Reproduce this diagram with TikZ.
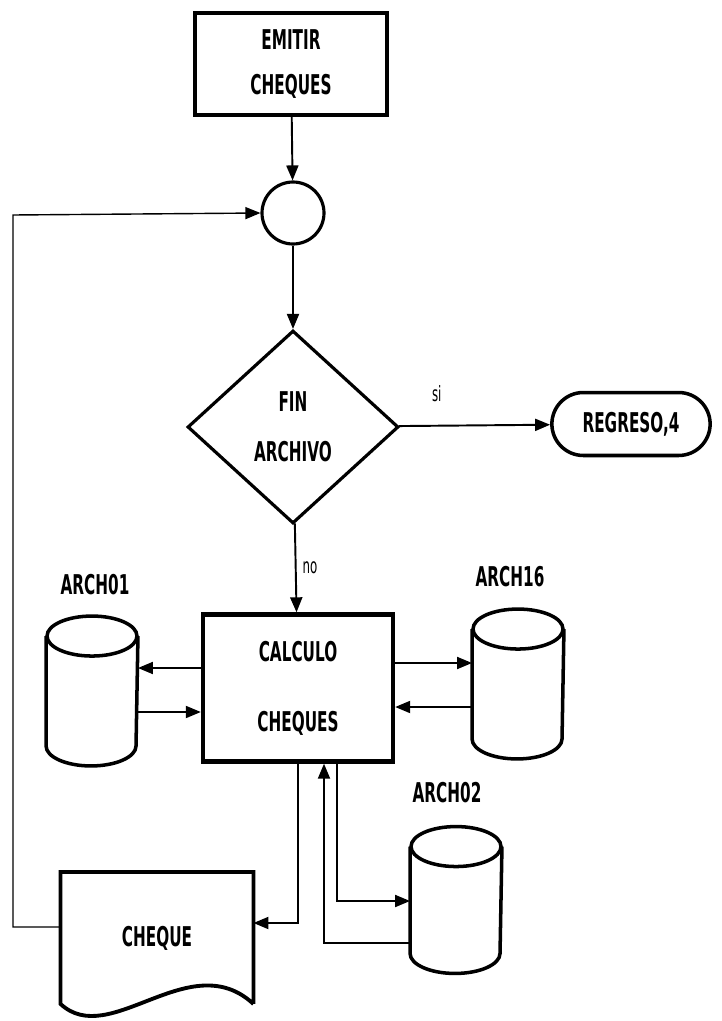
\documentclass[tikz,border=0pt]{standalone}
\usepackage{fontspec}
\newfontfamily\dotfont[FakeStretch=0.56]{DejaVu Sans}
\usetikzlibrary{arrows.meta,shapes.geometric,shapes.misc,positioning,calc}
\tikzset{every picture/.style={line width=1.1pt}}
\tikzset{
  txt/.style={font=\dotfont\bfseries\fontsize{15.5}{17}\selectfont, align=center},
  small/.style={font=\dotfont\fontsize{12}{13}\selectfont},
  box/.style={txt, draw, line width=2.5pt, inner sep=0pt},
  disk/.style={minimum width=1.8cm, minimum height=2.96cm, inner sep=0pt},
  arr/.style={-{Triangle[length=0.3cm,width=0.24cm]}},
}

\begin{document}
\begin{tikzpicture}[x=0.02cm, y=-0.02cm]
    \useasboundingbox (0,0) rectangle (721,1021);
    % Blocks
    \node[box, minimum width=3.84cm, minimum height=2.04cm] (emitir) at (291,64)
        {EMITIR\\[0.3cm]CHEQUES};
    \node[draw, circle, line width=1.8pt, minimum size=1.24cm] (conn) at (293,213) {};
    \node[txt, draw, diamond, line width=1.8pt, minimum width=4.22cm,
        minimum height=3.86cm, inner sep=0pt] (fin) at (293,427) {FIN\\[0.4cm]ARCHIVO};
    \node[txt, draw, rounded rectangle, line width=2pt, minimum width=3.4cm,
        minimum height=1.26cm] (regreso) at (631,424) {REGRESO,4};
    \node[box, minimum width=3.8cm, minimum height=2.94cm] (calc) at (298,688)
        {CALCULO\\[0.8cm]CHEQUES};
    % Files
    \node[disk] (arch01) at (92,691) {};
    \node[disk] (arch16) at (518,684) {};
    \node[disk, minimum height=2.9cm] (arch02) at (456,900) {};
    \foreach \f in {arch01,arch16,arch02} {
        \draw[line width=2pt] ($(\f.north)+(0,20)$) ellipse [x radius=0.9cm, y radius=0.4cm];
        \draw[line width=2pt] ($(\f.north west)+(0,20)$) -- ($(\f.south west)+(0,-20)$)
            arc [start angle=180, end angle=360, x radius=0.9cm, y radius=0.4cm]
            -- ($(\f.north east)+(0,20)$);
    }
    \node[txt] (l01) at (95,585) {ARCH01};
    \node[txt] (l16) at (510,577) {ARCH16};
    \node[txt] (l02) at (447,793) {ARCH02};
    % Document
    \node[txt, minimum width=3.82cm, minimum height=2.6cm, inner sep=0pt] (cheque) at (157,938) {CHEQUE};
    \draw[line width=2.2pt] (cheque.south east) -- (cheque.north east) -- (cheque.north west)
        -- (cheque.south west) .. controls (110,1050) and (190,945) .. (cheque.south east);
    % Flow
    \draw[arr] (emitir) -- (conn);
    \draw[arr] (conn) -- (fin);
    \draw[arr] (fin) -- (regreso) node[small, pos=0.25, above=0.35cm] {si};
    \draw[arr] (fin) -- (calc) node[small, pos=0.5, right] {no};
    \draw[arr] (calc.west |- 0,668) -- (arch01.east |- 0,668);
    \draw[arr] (arch01.east |- 0,712) -- (calc.west |- 0,712);
    \draw[arr] (calc.east |- 0,663) -- (arch16.west |- 0,663);
    \draw[arr] (arch16.west |- 0,707) -- (calc.east |- 0,707);
    \draw[arr] (298,0 |- calc.south) |- (cheque.east |- 0,923);
    \draw[arr] (arch02.west |- 0,943) -| (324,0 |- calc.south);
    \draw[arr] (337,0 |- calc.south) |- (arch02.west |- 0,901);
    % Loop back
    \draw[arr, line width=0.8pt] (cheque.west |- 0,927) -| (13,215) -- (conn.west);
\end{tikzpicture}
\end{document}
